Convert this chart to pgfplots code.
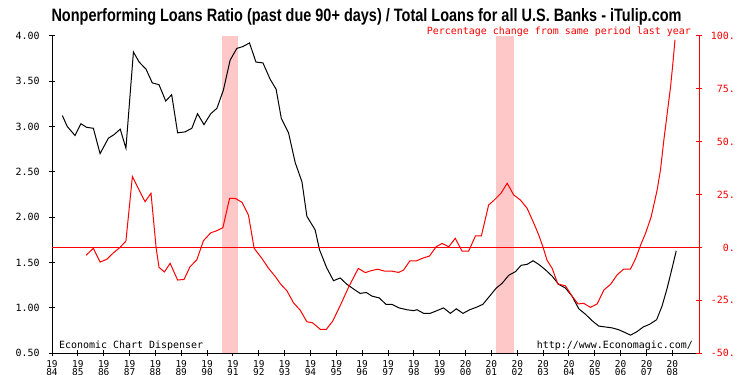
\documentclass[border=0pt]{standalone}
\usepackage{fontspec}
\usepackage{graphicx}
\usepackage{pgfplots}
\pgfplotsset{compat=1.18}
\setmainfont{DejaVu Sans Mono}
\newfontfamily\titlefont{Liberation Sans}
\definecolor{recess}{RGB}{255,200,200}
\definecolor{pred}{RGB}{255,0,0}
\begin{document}
\begin{tikzpicture}
\useasboundingbox (0,0) rectangle (750bp,375bp);
\begin{axis}[
  at={(52bp,21.7bp)}, anchor=south west, scale only axis,
  width=647bp, height=317.6bp,
  xmin=1984, xmax=2009.03, ymin=0.5, ymax=4,
  axis x line*=bottom, axis y line*=left,
  axis line style={black, line width=1bp},
  tick align=center, major tick length=6bp,
  tick style={black, line width=1bp},
  xtick={1984,1985,1986,1987,1988,1989,1990,1991,1992,1993,1994,1995,1996,1997,1998,1999,2000,2001,2002,2003,2004,2005,2006,2007,2008},
  xticklabels={19\\84,19\\85,19\\86,19\\87,19\\88,19\\89,19\\90,19\\91,19\\92,19\\93,19\\94,19\\95,19\\96,19\\97,19\\98,19\\99,20\\00,20\\01,20\\02,20\\03,20\\04,20\\05,20\\06,20\\07,20\\08},
  xticklabel style={anchor=north, inner sep=0pt, yshift=-3.5bp, align=center, font=\fontsize{9.5}{8.8}\selectfont},
  ytick={0.5,1,1.5,2,2.5,3,3.5,4},
  yticklabels={0.50,1.00,1.50,2.00,2.50,3.00,3.50,4.00},
  yticklabel style={anchor=east, inner sep=0pt, xshift=-9.3bp, font=\fontsize{10}{10}\selectfont},
]
\addplot[draw=none, fill=recess] coordinates {(1990.58,0.5) (1990.58,4) (1991.2,4) (1991.2,0.5)};
\addplot[draw=none, fill=recess] coordinates {(2001.19,0.5) (2001.19,4) (2001.89,4) (2001.89,0.5)};
\addplot[black, line width=1bp, mark=none] coordinates {
(1984.40,3.12) (1984.59,3.00) (1984.89,2.90) (1985.12,3.03) (1985.34,2.99) (1985.60,2.98)
(1985.86,2.70) (1986.18,2.87) (1986.40,2.91) (1986.64,2.97) (1986.86,2.76) (1987.15,3.82)
(1987.37,3.71) (1987.64,3.63) (1987.88,3.48) (1988.14,3.46) (1988.40,3.28) (1988.63,3.35)
(1988.86,2.93) (1989.15,2.94) (1989.41,2.98) (1989.63,3.14) (1989.88,3.02) (1990.14,3.14)
(1990.38,3.20) (1990.63,3.40) (1990.89,3.73) (1991.15,3.86) (1991.38,3.88) (1991.64,3.92)
(1991.89,3.71) (1992.16,3.70) (1992.44,3.52) (1992.67,3.41) (1992.87,3.09) (1993.15,2.93)
(1993.41,2.60) (1993.67,2.39) (1993.86,2.01) (1994.18,1.86) (1994.35,1.64) (1994.63,1.44)
(1994.89,1.30) (1995.15,1.33) (1995.41,1.26) (1995.66,1.21) (1995.92,1.16) (1996.16,1.17)
(1996.38,1.13) (1996.66,1.11) (1996.92,1.04) (1997.15,1.04) (1997.43,1.00) (1997.73,0.98)
(1997.99,0.97) (1998.12,0.98) (1998.38,0.94) (1998.63,0.94) (1998.89,0.97) (1999.15,1.00)
(1999.41,0.94) (1999.64,0.99) (1999.90,0.94) (2000.16,0.98) (2000.44,1.01) (2000.67,1.04)
(2000.93,1.13) (2001.19,1.22) (2001.41,1.27) (2001.67,1.36) (2001.93,1.40) (2002.15,1.47)
(2002.38,1.48) (2002.61,1.52) (2002.83,1.48) (2003.09,1.42) (2003.35,1.35) (2003.60,1.26)
(2003.86,1.22) (2004.12,1.13) (2004.38,0.99) (2004.64,0.93) (2004.89,0.86) (2005.15,0.80)
(2005.41,0.79) (2005.67,0.78) (2005.92,0.76) (2006.16,0.73) (2006.38,0.70) (2006.64,0.74)
(2006.87,0.79) (2007.12,0.82) (2007.39,0.87) (2007.60,1.02) (2007.80,1.22) (2007.99,1.44)
(2008.15,1.63)};
\end{axis}
\begin{axis}[
  at={(52bp,21.7bp)}, anchor=south west, scale only axis,
  width=647bp, height=317.6bp,
  xmin=1984, xmax=2009.03, ymin=-50, ymax=100,
  hide x axis, axis y line*=right,
  axis line style={pred, line width=1bp},
  tick align=center, major tick length=6bp,
  tick style={pred, line width=1bp},
  ytick={-50,-25,0,25,50,75,100},
  yticklabels={-50.,-25.,0.,25.,50.,75.,100.},
  yticklabel style={anchor=east, inner sep=0pt, xshift=33bp, text=pred, font=\fontsize{10}{10}\selectfont},
]
\addplot[draw=pred, line width=1bp, mark=none] coordinates {
(1985.32,-3.7) (1985.60,-0.4) (1985.86,-6.9) (1986.12,-5.6) (1986.38,-2.5) (1986.63,0.0)
(1986.86,3.0) (1987.11,33.5) (1987.37,27.1) (1987.60,21.6) (1987.83,25.6) (1988.03,-0.4)
(1988.14,-9.4) (1988.35,-11.6) (1988.57,-7.5) (1988.86,-15.4) (1989.11,-15.1) (1989.34,-9.1)
(1989.60,-5.9) (1989.86,3.2) (1990.14,6.9) (1990.38,7.9) (1990.61,9.3) (1990.87,23.2)
(1991.09,23.2) (1991.35,21.3) (1991.60,15.3) (1991.82,-0.4) (1992.12,-5.2) (1992.38,-9.9)
(1992.64,-13.8) (1992.85,-17.4) (1993.09,-20.5) (1993.34,-26.1) (1993.60,-29.6) (1993.86,-35.1)
(1994.08,-35.6) (1994.38,-38.7) (1994.61,-38.7) (1994.86,-34.8) (1995.16,-27.2) (1995.48,-18.6)
(1995.85,-9.9) (1996.12,-11.9) (1996.34,-11.0) (1996.60,-10.3) (1996.87,-11.2) (1997.15,-11.2)
(1997.41,-11.8) (1997.60,-10.7) (1997.84,-6.4) (1998.09,-6.4) (1998.35,-5.0) (1998.60,-4.1)
(1998.86,0.3) (1999.09,1.9) (1999.35,0.3) (1999.60,4.3) (1999.86,-1.7) (2000.12,-1.7)
(2000.38,5.4) (2000.61,5.4) (2000.89,20.0) (2001.11,22.4) (2001.37,25.6) (2001.61,30.3)
(2001.86,24.8) (2002.12,22.4) (2002.38,18.5) (2002.64,11.4) (2002.83,5.9) (2003.00,0.0)
(2003.15,-6.0) (2003.35,-9.9) (2003.57,-17.3) (2003.86,-18.1) (2004.12,-23.0) (2004.35,-26.7)
(2004.57,-26.4) (2004.83,-28.3) (2005.09,-26.7) (2005.35,-20.1) (2005.61,-17.4) (2005.86,-13.0)
(2006.12,-10.2) (2006.38,-10.2) (2006.58,-5.2) (2006.77,1.1) (2006.96,6.6) (2007.18,14.5)
(2007.41,27.1) (2007.54,36.6) (2007.67,50.7) (2007.80,63.3) (2007.93,75.9) (2008.02,87.0)
(2008.10,98.0)};
\end{axis}
\node[anchor=base, inner sep=0pt] at (366.5bp,353bp) {\resizebox{630bp}{\height}{\titlefont\bfseries\fontsize{18}{18}\selectfont Nonperforming Loans Ratio (past due 90+ days) / Total Loans for all U.S. Banks - iTulip.com}};
\node[anchor=base east, inner sep=0pt, text=pred, font=\fontsize{10}{10}\selectfont] at (691bp,340.5bp) {Percentage change from same period last year};
\node[anchor=base west, inner sep=0pt, font=\fontsize{10}{10}\selectfont] at (59bp,27bp) {Economic Chart Dispenser};
\node[anchor=base east, inner sep=0pt, font=\fontsize{10}{10}\selectfont] at (693bp,27bp) {http://www.Economagic.com/};
\begin{axis}[
  at={(52bp,21.7bp)}, anchor=south west, scale only axis,
  width=647bp, height=317.6bp,
  xmin=1984, xmax=2009.03, ymin=-50, ymax=100,
  hide axis,
]
\addplot[draw=pred, line width=1bp, mark=none] coordinates {(1984,0) (1996.5,0) (2009.03,0)};
\end{axis}
\end{tikzpicture}
\end{document}
